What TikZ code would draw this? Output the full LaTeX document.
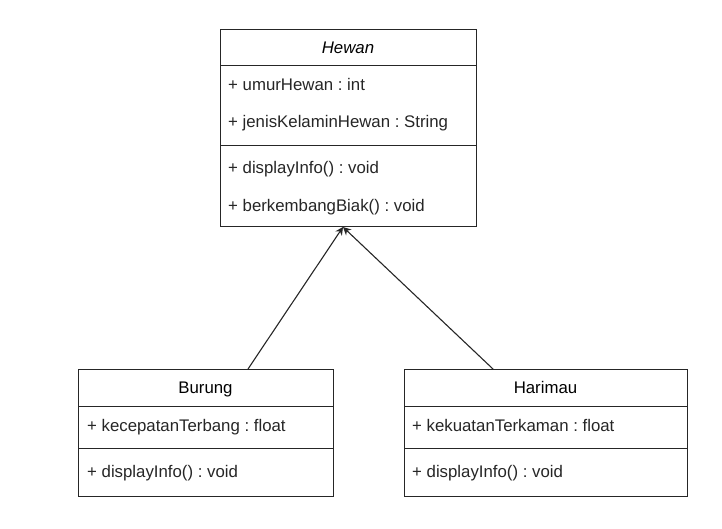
\documentclass[tikz,border=0pt]{standalone}
\usepackage{fontspec}
\setmainfont{Liberation Sans}
\usetikzlibrary{arrows.meta,positioning}
\frenchspacing

\begin{document}
\begin{tikzpicture}[x=1pt,y=-1pt,
  compartment/.style={draw=black!85,line width=1pt,inner sep=0pt,anchor=north,
    text height=15pt,text depth=3.5pt,font=\fontsize{16.8}{19}\selectfont},
  member/.style={anchor=west,inner sep=0pt,text=black!85,
    text height=15pt,text depth=3.5pt,font=\fontsize{16.8}{19}\selectfont},
  inherit/.style={draw=black!85,line width=1.1pt,-{Stealth[length=8pt,width=8pt]}}]
  \useasboundingbox (0,0) rectangle (722,528);
  % Hewan
  \node[compartment,minimum width=256pt,minimum height=36pt] (hewan) at (348,29) {\textit{Hewan}};
  \node[compartment,minimum width=256pt,minimum height=80pt] (hewanattr) at (348,65) {};
  \node[compartment,minimum width=256pt,minimum height=81pt] (hewanop) at (348,145) {};
  \node[member] (umur) at (228,85) {+ umurHewan : int};
  \node[member] (kelamin) at (228,122) {+ jenisKelaminHewan : String};
  \node[member] (hewaninfo) at (228,168) {+ displayInfo() : void};
  \node[member] (biak) at (228,206) {+ berkembangBiak() : void};
  % Burung
  \node[compartment,minimum width=255pt,minimum height=37pt] (burung) at (205.5,369) {Burung};
  \node[compartment,minimum width=255pt,minimum height=42pt] (burungattr) at (205.5,406) {};
  \node[compartment,minimum width=255pt,minimum height=48pt] (burungop) at (205.5,448) {};
  \node[member] (terbang) at (87,426) {+ kecepatanTerbang : float};
  \node[member] (burunginfo) at (87,472) {+ displayInfo() : void};
  % Harimau
  \node[compartment,minimum width=283pt,minimum height=37pt] (harimau) at (545.5,369) {Harimau};
  \node[compartment,minimum width=283pt,minimum height=42pt] (harimauattr) at (545.5,406) {};
  \node[compartment,minimum width=283pt,minimum height=48pt] (harimauop) at (545.5,448) {};
  \node[member] (terkaman) at (412,426) {+ kekuatanTerkaman : float};
  \node[member] (harimauinfo) at (412,472) {+ displayInfo() : void};
  % generalisation
  \draw[inherit] ([xshift=42.5pt]burung.north) -- ([xshift=-5pt]hewanop.south);
  \draw[inherit] ([xshift=-52.5pt]harimau.north) -- ([xshift=-5pt]hewanop.south);
\end{tikzpicture}
\end{document}
